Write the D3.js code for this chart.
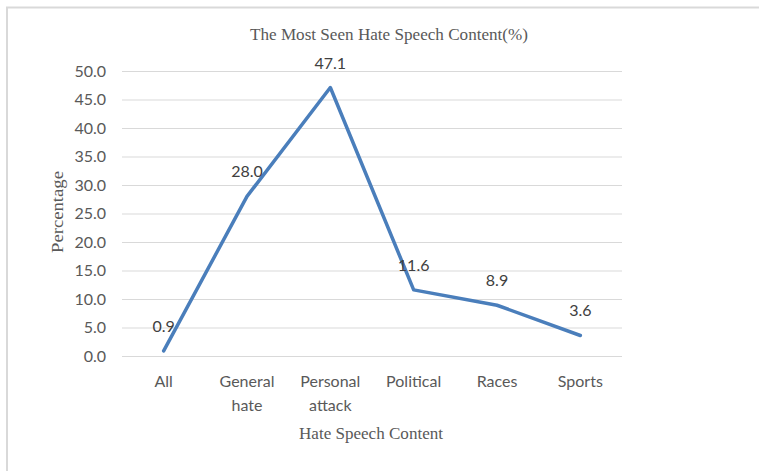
<!DOCTYPE html>
<html>
<head>
<meta charset="utf-8">
<script src="https://cdn.jsdelivr.net/npm/d3@7"></script>
<style>
  body { margin: 0; background: #fff; }
</style>
</head>
<body>
<div id="chart-area"></div>
<script>
// data
const categories = [["All"], ["General", "hate"], ["Personal", "attack"], ["Political"], ["Races"], ["Sports"]]
const values = [0.9, 28.0, 47.1, 11.6, 8.9, 3.6]
const yTicks = [0, 5, 10, 15, 20, 25, 30, 35, 40, 45, 50]

const W = 759, H = 471
const MARGIN = { LEFT: 122, RIGHT: 137, TOP: 71, BOTTOM: 115 }
const WIDTH = W - MARGIN.LEFT - MARGIN.RIGHT
const HEIGHT = H - MARGIN.TOP - MARGIN.BOTTOM

const svg = d3.select("#chart-area").append("svg")
  .attr("width", W)
  .attr("height", H)

// outer frame (runs off the right / bottom edge)
svg.append("rect")
  .attr("x", 7).attr("y", 7.5)
  .attr("width", W + 20).attr("height", H + 20)
  .attr("fill", "none")
  .attr("stroke", "#d9d9d9")
  .attr("stroke-width", 2)

const g = svg.append("g")
  .attr("transform", `translate(${MARGIN.LEFT}, ${MARGIN.TOP})`)

const keys = categories.map(c => c.join(" "))

const x = d3.scalePoint()
  .domain(keys)
  .range([0, WIDTH])
  .padding(0.5)

const y = d3.scaleLinear()
  .domain([0, 50])
  .range([HEIGHT, 0])

// gridlines + y tick labels
const yAxisCall = d3.axisLeft(y)
  .tickValues(yTicks)
  .tickSize(-WIDTH)
  .tickPadding(16)
  .tickFormat(d3.format(".1f"))

const yAxisGroup = g.append("g").call(yAxisCall)
yAxisGroup.select(".domain").remove()
yAxisGroup.selectAll("line").attr("stroke", "#d9d9d9").attr("stroke-width", 1)
yAxisGroup.selectAll("text")
  .attr("fill", "#595959")
  .attr("font-family", "Lato, 'Open Sans', sans-serif")
  .attr("font-size", "16px")

// x category labels
const xAxisCall = d3.axisBottom(x).tickSize(0).tickFormat("")
const xAxisGroup = g.append("g")
  .attr("transform", `translate(0, ${HEIGHT})`)
  .call(xAxisCall)
xAxisGroup.select(".domain").remove()

const catLabels = g.selectAll("text.cat")
  .data(categories)
  .enter().append("text")
  .attr("class", "cat")
  .attr("x", d => x(d.join(" ")))
  .attr("y", HEIGHT + 31)
  .attr("text-anchor", "middle")
  .attr("fill", "#595959")
  .attr("font-family", "Lato, 'Open Sans', sans-serif")
  .attr("font-size", "16px")

catLabels.selectAll("tspan")
  .data(d => d)
  .enter().append("tspan")
  .attr("x", function () { return d3.select(this.parentNode).attr("x") })
  .attr("dy", (d, i) => i === 0 ? 0 : 24)
  .text(d => d)

// line
const line = d3.line()
  .x((d, i) => x(keys[i]))
  .y(d => y(d))

g.append("path")
  .datum(values)
  .attr("d", line)
  .attr("fill", "none")
  .attr("stroke", "#4a7ebb")
  .attr("stroke-width", 3.5)
  .attr("stroke-linejoin", "round")
  .attr("stroke-linecap", "round")

// data labels
g.selectAll("text.val")
  .data(values)
  .enter().append("text")
  .attr("class", "val")
  .attr("x", (d, i) => x(keys[i]))
  .attr("y", d => y(d) - 19)
  .attr("text-anchor", "middle")
  .attr("fill", "#404040")
  .attr("font-family", "Lato, 'Open Sans', sans-serif")
  .attr("font-size", "16px")
  .text(d => d.toFixed(1))

// title
svg.append("text")
  .attr("x", 389)
  .attr("y", 40)
  .attr("text-anchor", "middle")
  .attr("fill", "#595959")
  .attr("font-family", "'Liberation Serif', serif")
  .attr("font-size", "16px")
  .attr("textLength", 278)
  .attr("lengthAdjust", "spacingAndGlyphs")
  .text("The Most Seen Hate Speech Content(%)")

// x title
svg.append("text")
  .attr("x", 371)
  .attr("y", 439)
  .attr("text-anchor", "middle")
  .attr("fill", "#595959")
  .attr("font-family", "'Liberation Serif', serif")
  .attr("font-size", "16px")
  .attr("textLength", 144)
  .attr("lengthAdjust", "spacingAndGlyphs")
  .text("Hate Speech Content")

// y title
svg.append("text")
  .attr("transform", "translate(63, 212) rotate(-90)")
  .attr("text-anchor", "middle")
  .attr("fill", "#595959")
  .attr("font-family", "'Liberation Serif', serif")
  .attr("font-size", "16px")
  .attr("textLength", 82)
  .attr("lengthAdjust", "spacingAndGlyphs")
  .text("Percentage")
</script>
</body>
</html>
